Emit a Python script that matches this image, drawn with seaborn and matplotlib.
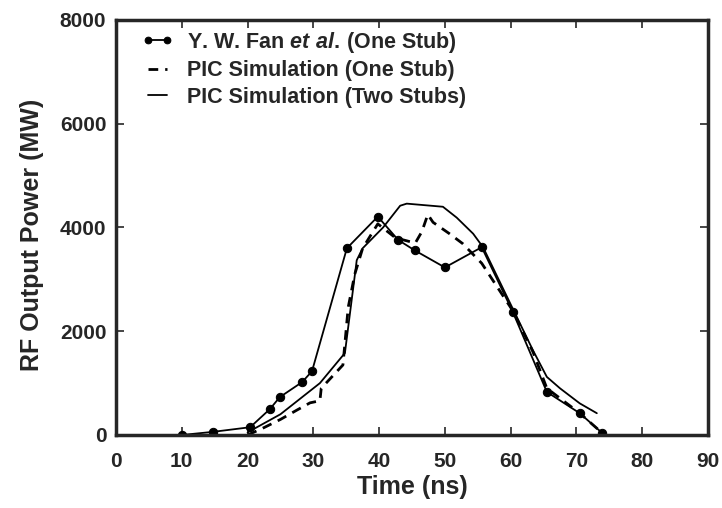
import pandas as pd
import numpy as np
import matplotlib
matplotlib.use("Agg")
import matplotlib.pyplot as plt
import seaborn as sns

# ------------------------
# Data
# ------------------------

fan_t = [10, 14.7, 20.4, 23.4, 24.9, 28.3, 29.8, 35.1, 39.8, 42.9, 45.4, 50.0, 55.6, 60.3, 65.5, 70.5, 73.9]
fan_p = [0, 60, 150, 500, 730, 1020, 1230, 3600, 4210, 3760, 3560, 3230, 3620, 2380, 830, 420, 40]

one_t = [20.0, 22.3, 25.0, 27.5, 29.5, 31.0, 31.2, 34.5, 35.3, 36.3, 37.5, 39.8, 42.5, 45.5, 46.5, 47.4, 48.2, 50.7, 52.7, 55.6, 60.3, 63.4, 65.5, 70.5, 73.9]
one_p = [0, 130, 300, 480, 620, 660, 900, 1350, 2460, 3100, 3600, 4070, 3800, 3700, 3920, 4250, 4100, 3880, 3690, 3310, 2400, 1600, 900, 420, 40]

two_t = [20.0, 25.0, 31.0, 34.8, 36.6, 37.5, 40.6, 43.2, 44.2, 49.7, 51.8, 54.3, 55.8, 60.3, 63.4, 65.5, 67.5, 70.5, 73.1]
two_p = [50, 400, 1000, 1580, 3370, 3600, 4000, 4420, 4460, 4400, 4190, 3880, 3620, 2440, 1630, 1120, 900, 610, 420]

fan_df = pd.DataFrame({"t": fan_t, "p": fan_p})
one_df = pd.DataFrame({"t": one_t, "p": one_p})
two_df = pd.DataFrame({"t": two_t, "p": two_p})

sns.set_style("ticks")
plt.rcParams["font.family"] = ["Liberation Sans", "DejaVu Sans"]
plt.rcParams["mathtext.fontset"] = "custom"
plt.rcParams["mathtext.it"] = "Liberation Sans:italic:bold"
plt.rcParams["mathtext.rm"] = "Liberation Sans:bold"

fig = plt.figure(figsize=(7.22, 5.08), dpi=100)
ax = fig.add_axes([116 / 722, 1 - 435 / 508, (708 - 116) / 722, (435 - 20) / 508])

sns.lineplot(data=fan_df, x="t", y="p", ax=ax, sort=False, estimator=None,
             color="black", lw=1.3, marker="o", markersize=6,
             markeredgecolor="black", label="Y. W. Fan $\\mathit{et\\ al.}\\,$(One Stub)")
sns.lineplot(data=one_df, x="t", y="p", ax=ax, sort=False, estimator=None,
             color="black", lw=2.0, linestyle=(0, (3.5, 2.5)), label="PIC Simulation (One Stub)")
sns.lineplot(data=two_df, x="t", y="p", ax=ax, sort=False, estimator=None,
             color="black", lw=1.3, label="PIC Simulation (Two Stubs)")

ax.set_xlim(0, 90)
ax.set_ylim(0, 8000)
ax.set_xticks(np.arange(0, 91, 10))
ax.set_yticks(np.arange(0, 8001, 2000))

for s in ax.spines.values():
    s.set_linewidth(2.5)
    s.set_visible(True)

ax.tick_params(axis="x", direction="in", top=True, length=6, width=1.2, pad=12, labelsize=15)
ax.tick_params(axis="y", direction="in", right=True, length=6, width=1.2, pad=7, labelsize=15)
for lab in ax.get_xticklabels() + ax.get_yticklabels():
    lab.set_fontweight("bold")

ax.set_xlabel("Time (ns)", fontsize=18, fontweight="bold", labelpad=3)
ax.set_ylabel("RF Output Power (MW)", fontsize=18, fontweight="bold")
ax.yaxis.set_label_coords(-0.122, 0.482)

leg = ax.legend(loc="upper left", frameon=False, fontsize=15.5, handlelength=1.45,
                borderaxespad=0.0, labelspacing=0.25, handletextpad=0.65,
                numpoints=2, markerscale=0.8, bbox_to_anchor=(0.029, 0.997))
for txt in leg.get_texts():
    txt.set_fontweight("bold")

plt.savefig("out.png", dpi=100)
